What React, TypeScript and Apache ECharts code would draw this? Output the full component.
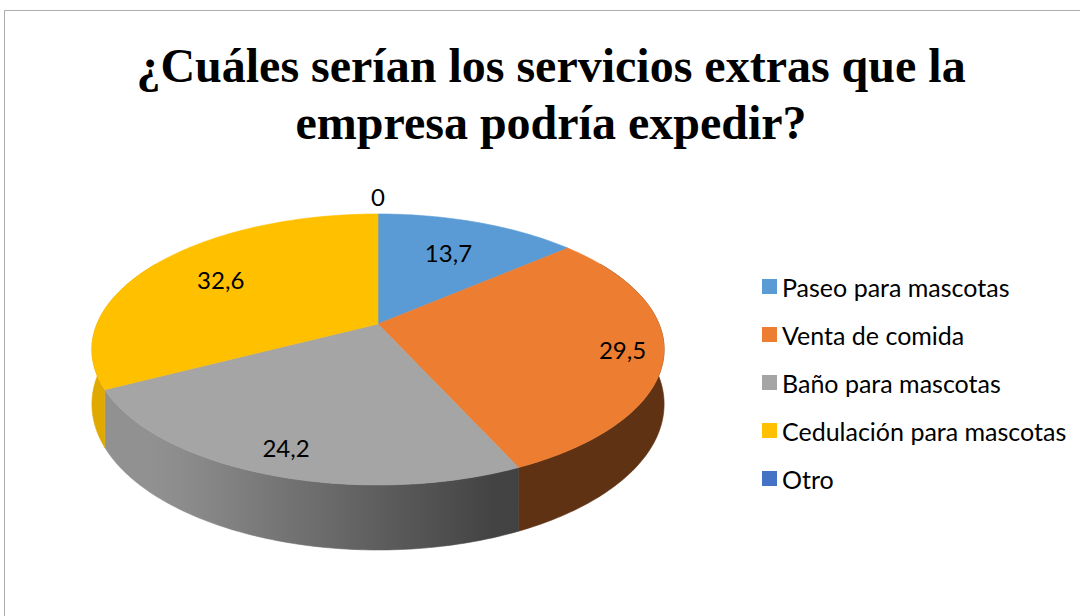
import React, { useEffect, useRef } from "react";
import * as echarts from "echarts";

const CATEGORIES = [
  "Paseo para mascotas",
  "Venta de comida",
  "Baño para mascotas",
  "Cedulación para mascotas",
  "Otro",
];
const VALUES = [13.7, 29.5, 24.2, 32.6, 0];
const COLORS = ["#5B9BD5", "#ED7D31", "#A5A5A5", "#FFC000", "#4472C4"];
const TITLE_LINES = ["¿Cuáles serían los servicios extras que la", "empresa podría expedir?"];

// layout of the pseudo-3D pie (perspective projection of a disk)
const CX = 378;
const CY = 324;
const RA = 281;
const RB = 130.7;
const KP = 0.188;
const H0 = 52.8;
const LABEL_R = [0.67, 0.86, 0.85, 0.7, 1.2];

function proj(t: number, r = 1): [number, number] {
  const u = r * Math.sin(t);
  const v = -r * Math.cos(t);
  const d = 1 - KP * v;
  return [CX + (RA * u) / d, CY + (RB * v) / d];
}
function projBottom(t: number): [number, number] {
  const [x, y] = proj(t);
  const v = -Math.cos(t);
  return [x, y + H0 / (1 - KP * v)];
}
function hexToRgb(h: string) {
  const n = parseInt(h.slice(1), 16);
  return [(n >> 16) & 255, (n >> 8) & 255, n & 255];
}
function shade(hex: string, f: number) {
  const [r, g, b] = hexToRgb(hex);
  return `rgb(${Math.round(r * f)},${Math.round(g * f)},${Math.round(b * f)})`;
}
function sideGradient(hex: string) {
  const stops = [];
  for (let i = 0; i <= 20; i++) {
    const o = i / 20;
    const u = -1 + 2 * o;
    const f = Math.max(0.4, Math.min(0.88, 0.57 - 0.41 * u));
    stops.push({ offset: o, color: shade(hex, f) });
  }
  return {
    type: "linear",
    x: CX - RA * 1.02,
    y: 0,
    x2: CX + RA * 1.02,
    y2: 0,
    colorStops: stops,
    global: true,
  };
}
function fmt(v: number) {
  return String(v).replace(".", ",");
}

export default function App() {
  const ref = useRef<HTMLDivElement>(null);
  useEffect(() => {
    if (!ref.current) return;
    const chart = echarts.init(ref.current, null, { renderer: "svg" });
    const total = VALUES.reduce((a, b) => a + b, 0);
    const DEG = Math.PI / 180;

    const renderItem = (params: any, api: any) => {
      const i = params.seriesIndex;
      const value = api.value(0);
      let before = 0;
      for (let j = 0; j < i; j++) before += VALUES[j];
      const t0 = (before / total) * Math.PI * 2;
      const t1 = t0 + (value / total) * Math.PI * 2;
      const children: any[] = [];
      if (value > 0) {
        const pts: number[][] = [[CX, CY]];
        const n = Math.max(2, Math.ceil((t1 - t0) / DEG));
        for (let k = 0; k <= n; k++) pts.push(proj(t0 + ((t1 - t0) * k) / n));
        children.push({
          type: "polygon",
          z2: 10,
          shape: { points: pts },
          style: { fill: COLORS[i], stroke: COLORS[i], lineWidth: 0.6 },
        });
        const sa = Math.max(t0, 60 * DEG);
        const sb = Math.min(t1, 300 * DEG);
        if (sb > sa) {
          const m = Math.max(2, Math.ceil((sb - sa) / DEG));
          const top: number[][] = [];
          const bot: number[][] = [];
          for (let k = 0; k <= m; k++) {
            const t = sa + ((sb - sa) * k) / m;
            top.push(proj(t));
            bot.push(projBottom(t));
          }
          const grad = sideGradient(COLORS[i]);
          children.push({
            type: "polygon",
            z2: 1,
            shape: { points: top.concat(bot.reverse()) },
            style: { fill: grad, stroke: grad, lineWidth: 0.6 },
          });
        }
      }
      const mid = (t0 + t1) / 2;
      const [lx, ly] = proj(mid, LABEL_R[i]);
      children.push({
        type: "text",
        z2: 20,
        style: {
          text: fmt(value),
          x: lx,
          y: ly,
          align: "center",
          verticalAlign: "middle",
          fontSize: 24,
          fontFamily: "Lato",
          fill: "#000000",
        },
      });
      return { type: "group", children };
    };

    chart.setOption({
      animation: false,
      backgroundColor: "#ffffff",
      graphic: [
        {
          type: "rect",
          shape: { x: 4.5, y: 10.5, width: 1200, height: 800 },
          style: { fill: "none", stroke: "#ADADAD", lineWidth: 1 },
          silent: true,
        },
        ...TITLE_LINES.map((line, k) => ({
          type: "text",
          x: 551,
          y: 65 + k * 57,
          style: {
            text: line,
            align: "center",
            verticalAlign: "middle",
            fontFamily: "Liberation Serif",
            fontWeight: "bold",
            fontSize: 48,
            fill: "#000000",
          },
        })),
      ],
      legend: {
        orient: "vertical",
        left: 757,
        top: 269,
        icon: "rect",
        itemWidth: 15,
        itemHeight: 15,
        itemGap: 23,
        data: CATEGORIES,
        textStyle: {
          fontFamily: "Lato",
          fontSize: 25,
          lineHeight: 25,
          color: "#000000",
        },
      },
      series: CATEGORIES.map((name, i) => ({
        type: "custom",
        name,
        coordinateSystem: "none",
        itemStyle: { color: COLORS[i] },
        data: [[VALUES[i]]],
        renderItem,
      })),
    });
    return () => chart.dispose();
  }, []);
  return (
    <div
      ref={ref}
      style={{ position: "fixed", left: 0, top: 0, width: 1080, height: 616 }}
    />
  );
}
